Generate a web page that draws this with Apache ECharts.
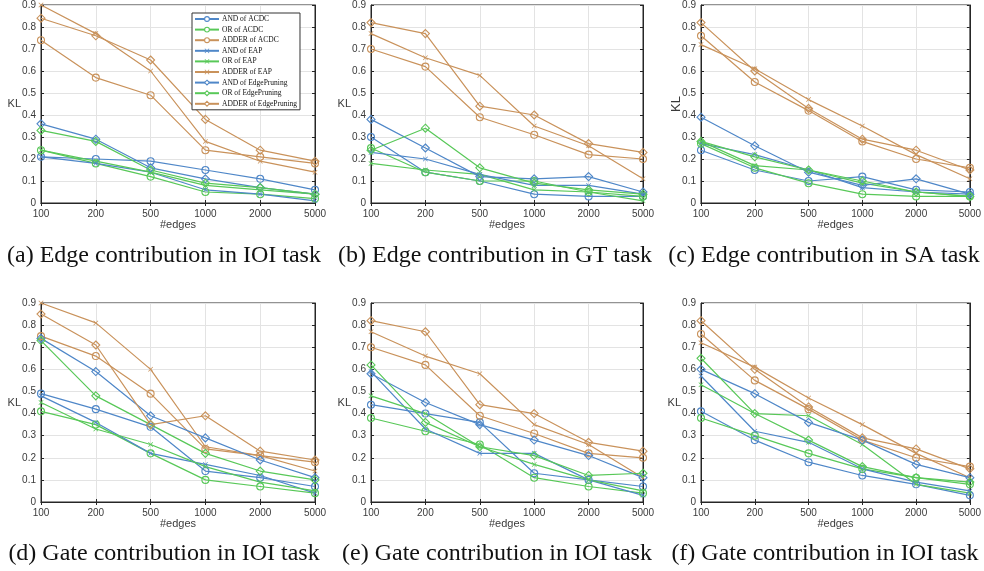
<!DOCTYPE html>
<html>
<head>
<meta charset="utf-8">
<script src="https://cdn.jsdelivr.net/npm/echarts@6/dist/echarts.min.js"></script>
<style>
  html, body { margin: 0; padding: 0; background: #fff; }
  #chart { width: 984px; height: 571px; }
</style>
</head>
<body>
<div id="chart"></div>
<script>
// x categories (#edges)
var edgeCounts = ["100", "200", "500", "1000", "2000", "5000"];

var seriesNames = [
  "AND of ACDC", "OR of ACDC", "ADDER of ACDC",
  "AND of EAP", "OR of EAP", "ADDER of EAP",
  "AND of EdgePruning", "OR of EdgePruning", "ADDER of EdgePruning"
];

// rows follow seriesNames order
var edgeIOI = [
  [0.21, 0.20, 0.19, 0.15, 0.11, 0.06],
  [0.24, 0.18, 0.12, 0.05, 0.04, 0.02],
  [0.74, 0.57, 0.49, 0.24, 0.21, 0.18],
  [0.21, 0.18, 0.14, 0.06, 0.04, 0.01],
  [0.24, 0.19, 0.14, 0.08, 0.06, 0.04],
  [0.90, 0.77, 0.60, 0.28, 0.19, 0.14],
  [0.36, 0.29, 0.16, 0.11, 0.07, 0.04],
  [0.33, 0.28, 0.15, 0.09, 0.07, 0.04],
  [0.84, 0.76, 0.65, 0.38, 0.24, 0.19]
];
var edgeGT = [
  [0.30, 0.14, 0.10, 0.04, 0.03, 0.03],
  [0.25, 0.14, 0.10, 0.10, 0.05, 0.03],
  [0.70, 0.62, 0.39, 0.31, 0.22, 0.20],
  [0.23, 0.20, 0.13, 0.08, 0.08, 0.04],
  [0.18, 0.15, 0.13, 0.06, 0.05, 0.01],
  [0.77, 0.66, 0.58, 0.35, 0.26, 0.11],
  [0.38, 0.25, 0.12, 0.11, 0.12, 0.05],
  [0.24, 0.34, 0.16, 0.09, 0.06, 0.04],
  [0.82, 0.77, 0.44, 0.40, 0.27, 0.23]
];
var edgeSA = [
  [0.24, 0.15, 0.10, 0.12, 0.06, 0.05],
  [0.27, 0.16, 0.09, 0.04, 0.03, 0.03],
  [0.76, 0.55, 0.42, 0.28, 0.20, 0.16],
  [0.27, 0.22, 0.15, 0.07, 0.05, 0.04],
  [0.28, 0.17, 0.15, 0.09, 0.05, 0.03],
  [0.72, 0.61, 0.47, 0.35, 0.22, 0.11],
  [0.39, 0.26, 0.14, 0.08, 0.11, 0.04],
  [0.28, 0.21, 0.15, 0.10, 0.05, 0.03],
  [0.82, 0.60, 0.43, 0.29, 0.24, 0.15]
];
var gateD = [
  [0.49, 0.42, 0.34, 0.14, 0.11, 0.07],
  [0.41, 0.35, 0.22, 0.10, 0.07, 0.04],
  [0.75, 0.66, 0.49, 0.24, 0.21, 0.18],
  [0.48, 0.36, 0.22, 0.17, 0.12, 0.04],
  [0.45, 0.33, 0.26, 0.16, 0.09, 0.05],
  [0.90, 0.81, 0.60, 0.25, 0.21, 0.14],
  [0.74, 0.59, 0.39, 0.29, 0.19, 0.11],
  [0.73, 0.48, 0.35, 0.22, 0.14, 0.10],
  [0.85, 0.71, 0.35, 0.39, 0.23, 0.19]
];
var gateE = [
  [0.44, 0.40, 0.36, 0.13, 0.10, 0.07],
  [0.38, 0.32, 0.26, 0.11, 0.07, 0.04],
  [0.70, 0.62, 0.39, 0.31, 0.22, 0.20],
  [0.59, 0.33, 0.22, 0.22, 0.10, 0.03],
  [0.48, 0.40, 0.25, 0.17, 0.10, 0.05],
  [0.77, 0.66, 0.58, 0.35, 0.26, 0.11],
  [0.58, 0.45, 0.35, 0.28, 0.21, 0.11],
  [0.62, 0.36, 0.25, 0.21, 0.12, 0.13],
  [0.82, 0.77, 0.44, 0.40, 0.27, 0.23]
];
var gateF = [
  [0.41, 0.28, 0.18, 0.12, 0.08, 0.03],
  [0.38, 0.30, 0.22, 0.15, 0.11, 0.08],
  [0.76, 0.55, 0.42, 0.28, 0.20, 0.16],
  [0.57, 0.32, 0.27, 0.15, 0.09, 0.05],
  [0.53, 0.40, 0.39, 0.26, 0.08, 0.04],
  [0.72, 0.61, 0.47, 0.35, 0.22, 0.11],
  [0.60, 0.49, 0.36, 0.28, 0.17, 0.11],
  [0.65, 0.40, 0.28, 0.16, 0.11, 0.09],
  [0.82, 0.60, 0.43, 0.29, 0.24, 0.15]
];

var panels = [edgeIOI, edgeGT, edgeSA, gateD, gateE, gateF];
var captions = [
  "(a) Edge contribution in IOI task",
  "(b) Edge contribution in GT task",
  "(c) Edge contribution in SA task",
  "(d) Gate contribution in IOI task",
  "(e) Gate contribution in IOI task",
  "(f) Gate contribution in IOI task"
];

var blue = "#4f87c8", green = "#58c858", orange = "#c9925b";
var lineColors = [blue, green, orange];
var crossPath = "path://M0,1L1,0L5,4L9,0L10,1L6,5L10,9L9,10L5,6L1,10L0,9L4,5Z";
var symbols = ["circle", crossPath, "diamond"];
var symbolSizes = [7, 5, 8];

function markerStyle(method, c) {
  return method === 1
    ? { color: c, borderWidth: 0 }
    : { color: "transparent", borderColor: c, borderWidth: 1.1 };
}

var grids = [
  { left: 41, top: 5, width: 274, height: 198 },
  { left: 371, top: 5, width: 272, height: 198 },
  { left: 701, top: 5, width: 273, height: 198 },
  { left: 41, top: 303, width: 274, height: 199 },
  { left: 371, top: 303, width: 272, height: 199 },
  { left: 701, top: 303, width: 273, height: 199 }
];
var captionX = [164, 495, 824, 164, 497, 825];
var captionY = [256, 256, 256, 554, 554, 554];

var axisColor = "#262626";
var labelColor = "#3a3a3a";
var xAxes = [], yAxes = [], series = [], graphics = [];

grids.forEach(function (g, i) {
  g.show = true;
  g.borderColor = axisColor;
  g.borderWidth = 1;
  g.containLabel = false;

  xAxes.push({
    type: "category", gridIndex: i, data: edgeCounts, boundaryGap: false,
    name: "#edges", nameLocation: "middle", nameGap: 16, nameMoveOverlap: false,
    nameTextStyle: { fontFamily: "Liberation Sans", fontSize: 11, color: labelColor },
    axisLine: { lineStyle: { color: axisColor, width: 1 } },
    axisTick: { inside: true, length: 3, lineStyle: { color: axisColor } },
    axisLabel: { fontFamily: "Liberation Sans", fontSize: 10, color: labelColor, margin: 6, interval: 0 },
    splitLine: { show: true, lineStyle: { color: "#e3e3e3" } }
  });
  // top edge ticks
  xAxes.push({
    type: "category", gridIndex: i, data: edgeCounts, boundaryGap: false, position: "top",
    axisLine: { lineStyle: { color: axisColor } },
    axisTick: { inside: true, length: 3, lineStyle: { color: axisColor } },
    axisLabel: { show: false }, splitLine: { show: false }
  });
  yAxes.push({
    type: "value", gridIndex: i, min: 0, max: 0.9, interval: 0.1,
    name: "KL", nameLocation: "middle", nameMoveOverlap: false,
    nameGap: i === 2 ? 18 : 20, nameRotate: i === 2 ? 90 : 0,
    nameTextStyle: { fontFamily: "Liberation Sans", fontSize: i === 2 ? 13 : 11, color: labelColor },
    axisLine: { show: true, lineStyle: { color: axisColor, width: 1 } },
    axisTick: { show: true, inside: true, length: 3, lineStyle: { color: axisColor } },
    axisLabel: {
      fontFamily: "Liberation Sans", fontSize: 10, color: labelColor, margin: 5,
      formatter: function (v) { return v === 0 ? "0" : v.toFixed(1); }
    },
    splitLine: { show: true, lineStyle: { color: "#e3e3e3" } }
  });
  // right edge ticks
  yAxes.push({
    type: "value", gridIndex: i, min: 0, max: 0.9, interval: 0.1, position: "right",
    axisLine: { show: true, lineStyle: { color: axisColor } },
    axisTick: { show: true, inside: true, length: 3, lineStyle: { color: axisColor } },
    axisLabel: { show: false }, splitLine: { show: false }
  });

  panels[i].forEach(function (row, k) {
    var method = Math.floor(k / 3), gate = k % 3;
    var c = lineColors[gate];
    series.push({
      name: seriesNames[k],
      type: "line",
      xAxisIndex: i * 2,
      yAxisIndex: i * 2,
      data: row,
      symbol: symbols[method],
      symbolSize: symbolSizes[method],
      showAllSymbol: true,
      lineStyle: { color: c, width: 1.2 },
      itemStyle: markerStyle(method, c)
    });
  });

  graphics.push({
    type: "text", x: captionX[i], y: captionY[i],
    style: {
      text: captions[i], fill: "#111", font: "24px 'Liberation Serif'",
      align: "center", verticalAlign: "middle"
    }
  });
});

var legendData = seriesNames.map(function (name, k) {
  var method = Math.floor(k / 3), c = lineColors[k % 3];
  var st = markerStyle(method, c);
  if (method !== 1) st.color = "#fff";
  return { name: name, itemStyle: st };
});

var myChart = echarts.init(document.getElementById("chart"));
var option = {
  animation: false,
  backgroundColor: "#fff",
  grid: grids,
  xAxis: xAxes,
  yAxis: yAxes,
  legend: {
    data: legendData,
    orient: "vertical",
    left: 192, top: 13,
    itemWidth: 24, itemHeight: 6, itemGap: 2.6,
    padding: [2, 3, 2, 2],
    backgroundColor: "#fff",
    borderColor: "#333", borderWidth: 1,
    textStyle: { fontFamily: "Liberation Serif", fontSize: 7.5, color: "#111", padding: [0, 0, 0, -2] },
    selectedMode: false
  },
  graphic: graphics,
  series: series
};
myChart.setOption(option);
</script>
</body>
</html>
